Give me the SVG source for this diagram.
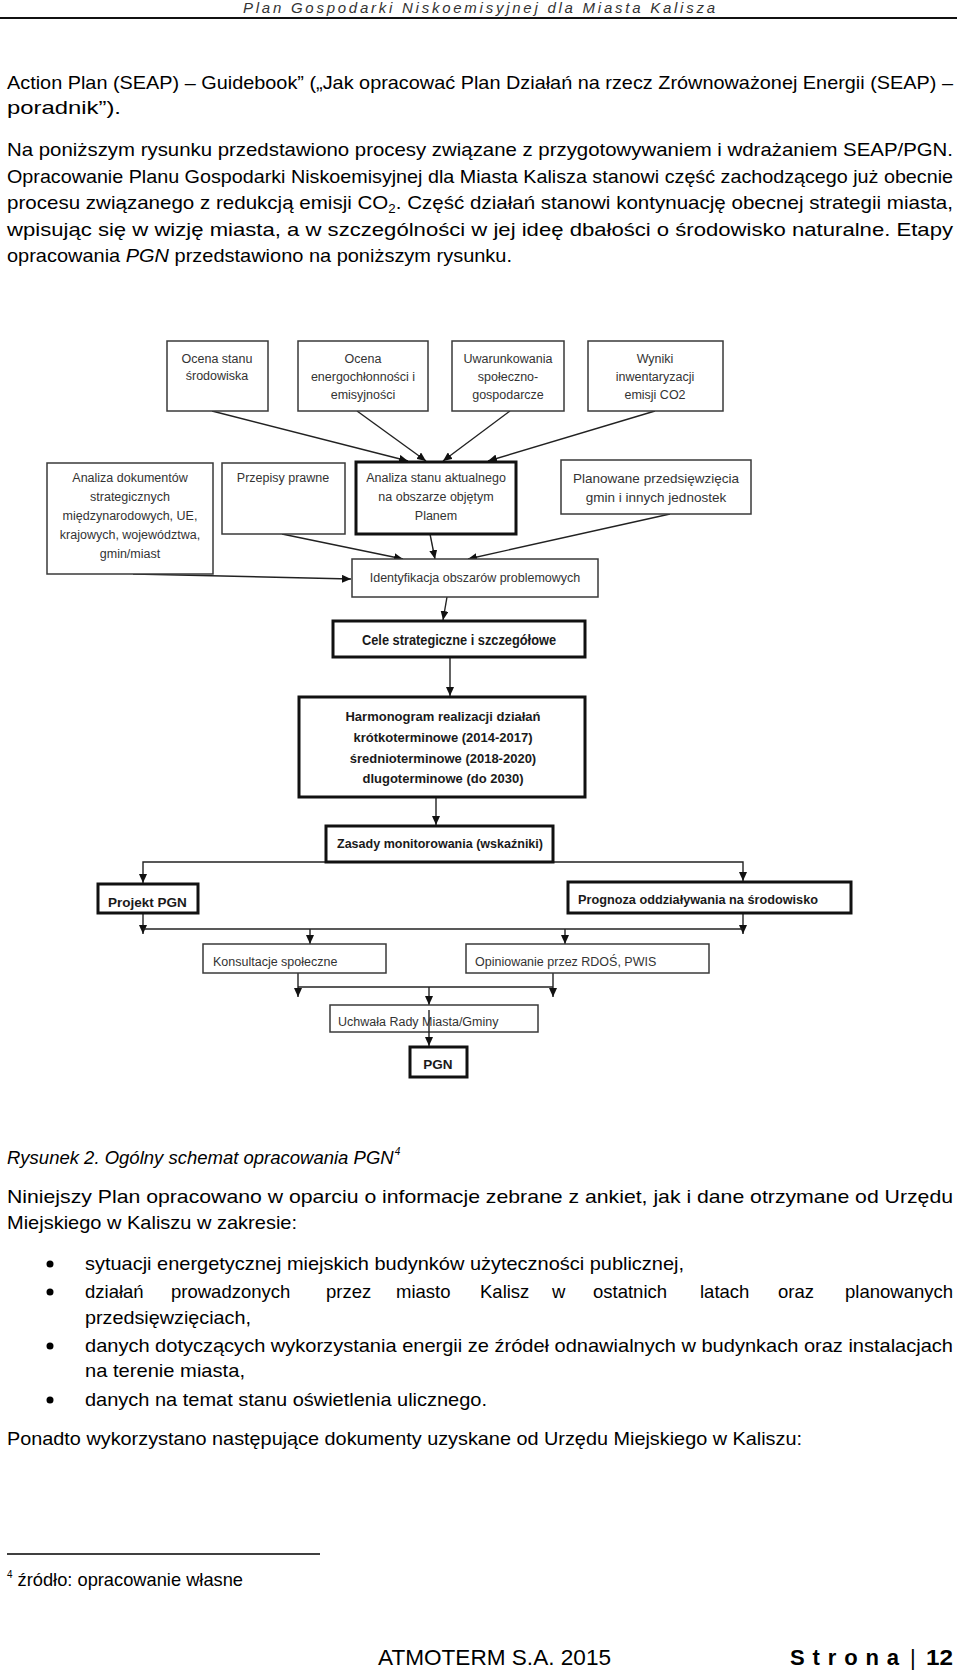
<svg xmlns="http://www.w3.org/2000/svg" width="960" height="1673" viewBox="0 0 960 1673">
<style>
.body{font-family:"Liberation Sans",Arial,sans-serif;font-size:18.5px;fill:#000}
.hdr{font-family:"Liberation Sans",Arial,sans-serif;font-size:15px;font-style:italic;fill:#333}
.box{fill:#fff;stroke:#3a3a3a;stroke-width:1.5}
.tbox{fill:#fff;stroke:#111;stroke-width:3}
.lbl{font-family:"Liberation Sans",Arial,sans-serif;font-size:12.5px;fill:#333;text-anchor:middle}
.lbll{font-family:"Liberation Sans",Arial,sans-serif;font-size:12.5px;fill:#333}
.bl{font-family:"Liberation Sans",Arial,sans-serif;font-size:13.5px;font-weight:bold;fill:#1a1a1a}
.con{fill:none;stroke:#222;stroke-width:1.4}
.foot{font-family:"Liberation Sans",Arial,sans-serif;font-size:22px;fill:#000}
</style>
<defs>
<marker id="ah" markerUnits="userSpaceOnUse" markerWidth="9" markerHeight="8" refX="9" refY="4" orient="auto">
<path d="M0,0 L9,4 L0,8 z" fill="#111"/>
</marker>
</defs>
<rect width="960" height="1673" fill="#fff"/>

<g id="header">
<text class="hdr" x="243" y="13" textLength="472" lengthAdjust="spacing">Plan Gospodarki Niskoemisyjnej dla Miasta Kalisza</text>
<line x1="0" y1="18" x2="957" y2="18" stroke="#111" stroke-width="2"/>
</g>

<g id="intro-text">
<text class="body" x="7" y="89" textLength="946" lengthAdjust="spacingAndGlyphs">Action Plan (SEAP) – Guidebook” („Jak opracować Plan Działań na rzecz Zrównoważonej Energii (SEAP) –</text>
<text class="body" x="7" y="114" textLength="114" lengthAdjust="spacingAndGlyphs">poradnik”).</text>
<text class="body" x="7" y="156" textLength="946" lengthAdjust="spacingAndGlyphs">Na poniższym rysunku przedstawiono procesy związane z przygotowywaniem i wdrażaniem SEAP/PGN.</text>
<text class="body" x="7" y="182.5" textLength="946" lengthAdjust="spacingAndGlyphs">Opracowanie Planu Gospodarki Niskoemisyjnej dla Miasta Kalisza stanowi część zachodzącego już obecnie</text>
<text class="body" x="7" y="209" textLength="946" lengthAdjust="spacingAndGlyphs">procesu związanego z redukcją emisji CO<tspan font-size="12" dy="4">2</tspan><tspan dy="-4">. Część działań stanowi kontynuację obecnej strategii miasta,</tspan></text>
<text class="body" x="7" y="235.5" textLength="946" lengthAdjust="spacingAndGlyphs">wpisując się w wizję miasta, a w szczególności w jej ideę dbałości o środowisko naturalne. Etapy</text>
<text class="body" x="7" y="262" textLength="505" lengthAdjust="spacingAndGlyphs">opracowania <tspan font-style="italic">PGN</tspan> przedstawiono na poniższym rysunku.</text>
</g>

<g id="connectors">
<line class="con" x1="212" y1="411" x2="408" y2="461" marker-end="url(#ah)"/>
<line class="con" x1="357" y1="411" x2="426" y2="461" marker-end="url(#ah)"/>
<line class="con" x1="510" y1="411" x2="443" y2="461" marker-end="url(#ah)"/>
<line class="con" x1="655" y1="411" x2="488" y2="461" marker-end="url(#ah)"/>
<line class="con" x1="133" y1="574" x2="351" y2="579" marker-end="url(#ah)"/>
<line class="con" x1="282" y1="534" x2="403" y2="559" marker-end="url(#ah)"/>
<line class="con" x1="430" y1="534" x2="435" y2="559" marker-end="url(#ah)"/>
<line class="con" x1="670" y1="514" x2="468" y2="559" marker-end="url(#ah)"/>
<line class="con" x1="447" y1="597" x2="443" y2="620" marker-end="url(#ah)"/>
<line class="con" x1="450" y1="657" x2="450" y2="696" marker-end="url(#ah)"/>
<line class="con" x1="436" y1="797" x2="436" y2="825" marker-end="url(#ah)"/>
<polyline class="con" points="326,862 143,862 143,883" marker-end="url(#ah)"/>
<polyline class="con" points="553,862 743,862 743,881" marker-end="url(#ah)"/>
<line class="con" x1="143" y1="913" x2="143" y2="934" marker-end="url(#ah)"/>
<line class="con" x1="743" y1="913" x2="743" y2="934" marker-end="url(#ah)"/>
<line class="con" x1="143" y1="929" x2="743" y2="929"/>
<line class="con" x1="310" y1="929" x2="310" y2="944" marker-end="url(#ah)"/>
<line class="con" x1="565" y1="929" x2="565" y2="944" marker-end="url(#ah)"/>
<line class="con" x1="298" y1="973" x2="298" y2="997" marker-end="url(#ah)"/>
<line class="con" x1="553" y1="973" x2="553" y2="997" marker-end="url(#ah)"/>
<line class="con" x1="298" y1="987" x2="553" y2="987"/>
<line class="con" x1="429" y1="987" x2="429" y2="1005" marker-end="url(#ah)"/>
</g>

<g id="n-ocena-stanu">
<rect class="box" x="167" y="341" width="101" height="70"/>
<text class="lbl" x="217" y="363">Ocena stanu</text>
<text class="lbl" x="217" y="380">środowiska</text>
</g>
<g id="n-ocena-energo">
<rect class="box" x="298" y="341" width="130" height="70"/>
<text class="lbl" x="363" y="363">Ocena</text>
<text class="lbl" x="363" y="381">energochłonności i</text>
<text class="lbl" x="363" y="399">emisyjności</text>
</g>
<g id="n-uwarunkowania">
<rect class="box" x="452" y="341" width="112" height="70"/>
<text class="lbl" x="508" y="363">Uwarunkowania</text>
<text class="lbl" x="508" y="381">społeczno-</text>
<text class="lbl" x="508" y="399">gospodarcze</text>
</g>
<g id="n-wyniki">
<rect class="box" x="588" y="341" width="135" height="70"/>
<text class="lbl" x="655" y="363">Wyniki</text>
<text class="lbl" x="655" y="381">inwentaryzacji</text>
<text class="lbl" x="655" y="399">emisji CO2</text>
</g>

<g id="n-analiza-dok">
<rect class="box" x="47" y="463" width="166" height="111"/>
<text class="lbl" x="130" y="482">Analiza dokumentów</text>
<text class="lbl" x="130" y="501">strategicznych</text>
<text class="lbl" x="130" y="520">międzynarodowych, UE,</text>
<text class="lbl" x="130" y="539">krajowych, województwa,</text>
<text class="lbl" x="130" y="558">gmin/miast</text>
</g>
<g id="n-przepisy">
<rect class="box" x="222" y="463" width="123" height="71"/>
<text class="lbl" x="283" y="482">Przepisy prawne</text>
</g>
<g id="n-analiza-stanu">
<rect class="tbox" x="356" y="462" width="160" height="72"/>
<text class="lbl" x="436" y="482">Analiza stanu aktualnego</text>
<text class="lbl" x="436" y="501">na obszarze objętym</text>
<text class="lbl" x="436" y="520">Planem</text>
</g>
<g id="n-planowane">
<rect class="box" x="561" y="460" width="190" height="54"/>
<text class="lbl" x="656" y="483" style="font-size:13.5px">Planowane przedsięwzięcia</text>
<text class="lbl" x="656" y="502" style="font-size:13.5px">gmin i innych jednostek</text>
</g>
<g id="n-identyfikacja">
<rect class="box" x="352" y="559" width="246" height="38"/>
<text class="lbl" x="475" y="582">Identyfikacja obszarów problemowych</text>
</g>
<g id="n-cele">
<rect class="tbox" x="333" y="621" width="252" height="36"/>
<text class="bl" x="362" y="645" style="font-size:14px" textLength="194" lengthAdjust="spacingAndGlyphs">Cele strategiczne i szczegółowe</text>
</g>
<g id="n-harmonogram">
<rect class="tbox" x="299" y="697" width="286" height="100"/>
<text class="bl" x="443" y="721" text-anchor="middle" style="font-size:13px">Harmonogram realizacji działań</text>
<text class="bl" x="443" y="742" text-anchor="middle" style="font-size:13px">krótkoterminowe  (2014-2017)</text>
<text class="bl" x="443" y="763" text-anchor="middle" style="font-size:13px">średnioterminowe (2018-2020)</text>
<text class="bl" x="443" y="783" text-anchor="middle" style="font-size:13px">dlugoterminowe (do 2030)</text>
</g>
<g id="n-zasady">
<rect class="tbox" x="326" y="826" width="227" height="36"/>
<text class="bl" x="337" y="848" textLength="206" lengthAdjust="spacingAndGlyphs">Zasady monitorowania (wskaźniki)</text>
</g>
<g id="n-projekt">
<rect class="tbox" x="98" y="884" width="100" height="29"/>
<text class="bl" x="108" y="907">Projekt PGN</text>
</g>
<g id="n-prognoza">
<rect class="tbox" x="568" y="882" width="283" height="31"/>
<text class="bl" x="578" y="904" textLength="240" lengthAdjust="spacingAndGlyphs">Prognoza oddziaływania na środowisko</text>
</g>
<g id="n-konsultacje">
<rect class="box" x="203" y="944" width="183" height="29"/>
<text class="lbll" x="213" y="966">Konsultacje społeczne</text>
</g>
<g id="n-opiniowanie">
<rect class="box" x="466" y="944" width="243" height="29"/>
<text class="lbll" x="475" y="966">Opiniowanie przez RDOŚ, PWIS</text>
</g>
<g id="n-uchwala">
<rect class="box" x="330" y="1005" width="208" height="27"/>
<text class="lbll" x="338" y="1026">Uchwała Rady Miasta/Gminy</text>
</g>
<line class="con" x1="429" y1="1010" x2="429" y2="1046" marker-end="url(#ah)"/>
<g id="n-pgn">
<rect class="tbox" x="410" y="1047" width="57" height="30"/>
<text class="bl" x="438" y="1069" text-anchor="middle">PGN</text>
</g>

<g id="after-text">
<text class="body" x="7" y="1164" font-style="italic" font-size="17.5">Rysunek 2. Ogólny schemat opracowania PGN<tspan font-size="10" dx="1" dy="-9">4</tspan></text>
<text class="body" x="7" y="1203" textLength="946" lengthAdjust="spacingAndGlyphs">Niniejszy Plan opracowano w oparciu o informacje zebrane z ankiet, jak i dane otrzymane od Urzędu</text>
<text class="body" x="7" y="1229" textLength="290" lengthAdjust="spacingAndGlyphs">Miejskiego w Kaliszu w zakresie:</text>
<circle cx="50" cy="1264" r="3.5" fill="#000"/>
<text class="body" x="85" y="1270" textLength="599" lengthAdjust="spacingAndGlyphs">sytuacji energetycznej miejskich budynków użyteczności publicznej,</text>
<circle cx="50" cy="1292" r="3.5" fill="#000"/>
<text class="body" y="1298"><tspan x="85">działań</tspan><tspan x="171">prowadzonych</tspan><tspan x="326">przez</tspan><tspan x="396">miasto</tspan><tspan x="480">Kalisz</tspan><tspan x="552">w</tspan><tspan x="593">ostatnich</tspan><tspan x="700">latach</tspan><tspan x="778">oraz</tspan></text>
<text class="body" x="953" y="1298" text-anchor="end">planowanych</text>
<text class="body" x="85" y="1324" textLength="166" lengthAdjust="spacingAndGlyphs">przedsięwzięciach,</text>
<circle cx="50" cy="1346" r="3.5" fill="#000"/>
<text class="body" x="85" y="1352" textLength="868" lengthAdjust="spacingAndGlyphs">danych dotyczących wykorzystania energii ze źródeł odnawialnych w budynkach oraz instalacjach</text>
<text class="body" x="85" y="1377" textLength="160" lengthAdjust="spacingAndGlyphs">na terenie miasta,</text>
<circle cx="50" cy="1400" r="3.5" fill="#000"/>
<text class="body" x="85" y="1406" textLength="402" lengthAdjust="spacingAndGlyphs">danych na temat stanu oświetlenia ulicznego.</text>
<text class="body" x="7" y="1445" textLength="795" lengthAdjust="spacingAndGlyphs">Ponadto wykorzystano następujące dokumenty uzyskane od Urzędu Miejskiego w Kaliszu:</text>
</g>

<g id="footnote">
<line x1="7" y1="1554" x2="320" y2="1554" stroke="#000" stroke-width="1.5"/>
<text class="body" x="7" y="1586" font-size="16.5" textLength="236" lengthAdjust="spacingAndGlyphs"><tspan font-size="10" dy="-8">4</tspan><tspan dy="8"> źródło: opracowanie własne</tspan></text>
</g>

<g id="footer">
<text class="foot" x="378" y="1665" textLength="233" lengthAdjust="spacingAndGlyphs">ATMOTERM S.A. 2015</text>
<text class="foot" x="790" y="1665" font-weight="bold" fill="#1f3864" textLength="109" lengthAdjust="spacing">Strona</text>
<text class="foot" x="910" y="1665">|</text>
<text class="foot" x="926" y="1665" font-weight="bold" textLength="27" lengthAdjust="spacingAndGlyphs">12</text>
</g>
</svg>
